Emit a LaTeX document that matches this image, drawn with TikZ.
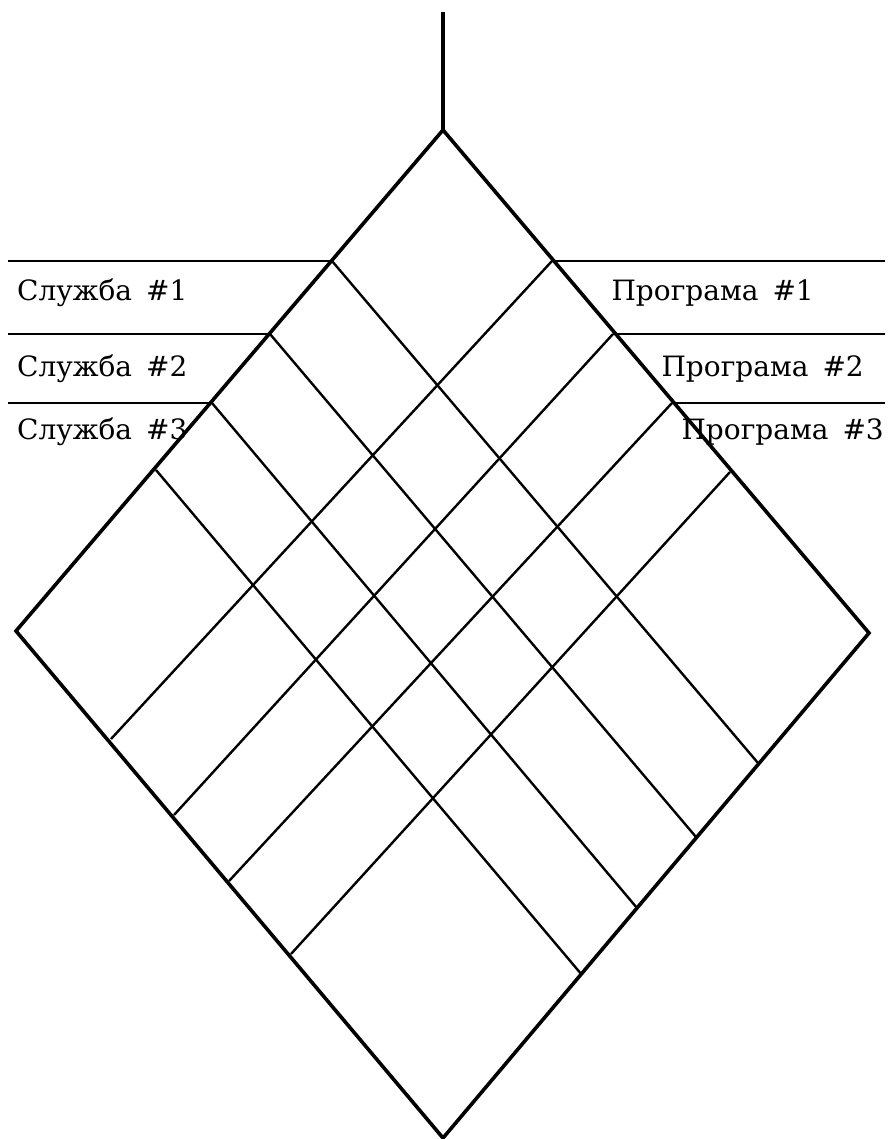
\documentclass[tikz,border=0pt]{standalone}
\usepackage{fontspec}
\setmainfont{DejaVu Serif}

\begin{document}
\begin{tikzpicture}[
  x=1pt, y=-1pt,
  frame/.style={line width=3.6pt, line join=miter},
  grid/.style={line width=2.4pt},
  rowtext/.style={anchor=base west, inner sep=0pt, font=\fontsize{28}{32}\selectfont},
  progtext/.style={rowtext, anchor=base east}
]
  \useasboundingbox (0,0) rectangle (888,1139);
  % diamond corners
  \coordinate (stem) at (443,12);
  \coordinate (top) at (443,130);
  \coordinate (left) at (16,631);
  \coordinate (right) at (869,633);
  \coordinate (bottom) at (443,1138);
  % points on the upper edges
  \coordinate (tl1) at (332,261);
  \coordinate (tl2) at (270,334);
  \coordinate (tl3) at (212,403);
  \coordinate (tl4) at (156,470);
  \coordinate (tr1) at (552,261);
  \coordinate (tr2) at (613,334);
  \coordinate (tr3) at (672,403);
  \coordinate (tr4) at (730,472);
  % points on the lower edges
  \coordinate (bl1) at (111,739);
  \coordinate (bl2) at (174,815);
  \coordinate (bl3) at (229,881);
  \coordinate (bl4) at (291,954);
  \coordinate (br1) at (758,763);
  \coordinate (br2) at (696,837);
  \coordinate (br3) at (637,908);
  \coordinate (br4) at (582,975);
  % row ends
  \coordinate (w1) at (8,261);
  \coordinate (w2) at (8,334);
  \coordinate (w3) at (8,403);
  \coordinate (e1) at (885,261);
  \coordinate (e2) at (885,334);
  \coordinate (e3) at (885,403);

  \draw[frame] (stem) -- (top);
  \draw[frame] (top) -- (left) -- (bottom) -- (right) -- cycle;

  \draw[grid] (tl1) -- (br1);
  \draw[grid] (tl2) -- (br2);
  \draw[grid] (tl3) -- (br3);
  \draw[grid] (tl4) -- (br4);
  \draw[grid] (tr1) -- (bl1);
  \draw[grid] (tr2) -- (bl2);
  \draw[grid] (tr3) -- (bl3);
  \draw[grid] (tr4) -- (bl4);

  \draw[grid] (w1) -- (tl1);
  \draw[grid] (w2) -- (tl2);
  \draw[grid] (w3) -- (tl3);
  \draw[grid] (tr1) -- (e1);
  \draw[grid] (tr2) -- (e2);
  \draw[grid] (tr3) -- (e3);

  \node[rowtext] (s1) at (17,300) {Служба\hspace{14pt}\#1};
  \node[rowtext] (s2) at (17,376) {Служба\hspace{14pt}\#2};
  \node[rowtext] (s3) at (17,439) {Служба\hspace{14pt}\#3};
  \node[progtext] (p1) at (814,300) {Програма\hspace{14pt}\#1};
  \node[progtext] (p2) at (864,376) {Програма\hspace{14pt}\#2};
  \node[progtext] (p3) at (884,439) {Програма\hspace{14pt}\#3};
\end{tikzpicture}
\end{document}
